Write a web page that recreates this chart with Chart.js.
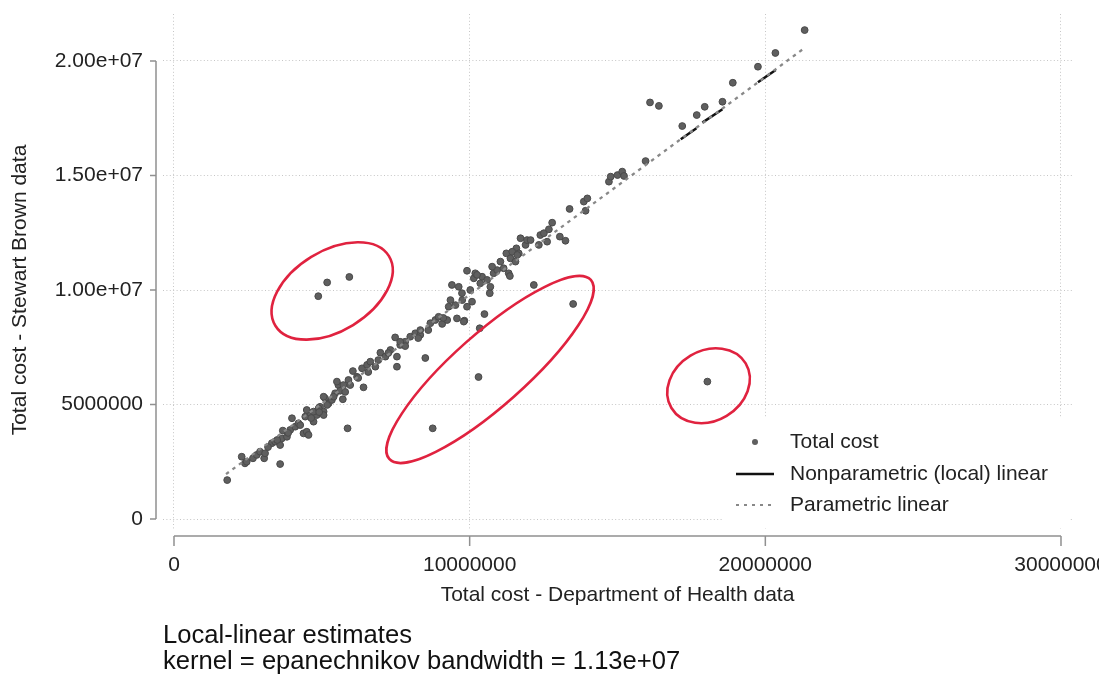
<!DOCTYPE html>
<html>
<head>
<meta charset="utf-8">
<title>Total cost: Department of Health vs Stewart Brown</title>
<script src="https://cdn.jsdelivr.net/npm/chart.js@4.4.1/dist/chart.umd.min.js"></script>
<style>
  html, body { margin: 0; padding: 0; background: #fff; }
</style>
</head>
<body>
<canvas id="costChart" width="1099" height="677"></canvas>
<script>
// Total cost per trust, in millions (DH data on x, Stewart Brown data on y)
const dhCost = [
  1.80, 2.29, 2.40, 2.46, 2.67, 2.80, 2.91, 3.05, 3.08, 3.31, 3.42, 3.59, 3.59, 3.65, 3.68, 3.82,
  3.93, 3.99, 4.10, 4.21, 4.38, 4.49, 4.55, 4.44, 4.61, 4.72, 4.83, 4.94, 5.06, 5.11, 5.23, 5.34,
  5.45, 5.56, 5.68, 5.87, 4.49, 4.72, 4.89, 5.06, 5.06, 5.40, 5.51, 5.62, 5.71, 5.73, 5.90, 6.05,
  6.19, 6.36, 6.41, 6.53, 6.64, 6.81, 6.98, 7.15, 7.32, 7.48, 7.54, 7.54, 7.65, 7.82, 7.99, 8.16,
  8.33, 8.50, 8.67, 8.84, 8.95, 9.07, 9.24, 9.29, 9.35, 9.40, 9.57, 9.63, 9.74, 9.82, 9.91, 9.91,
  10.08, 10.14, 10.19, 10.34, 10.36, 10.42, 10.50, 10.59, 10.68, 10.70, 10.81, 10.93, 11.04, 11.15,
  11.24, 11.32, 11.38, 11.55, 11.58, 11.66, 11.72, 11.89, 11.94, 10.25, 10.76, 11.44, 11.61, 12.06,
  12.17, 12.34, 12.39, 12.51, 12.62, 12.68, 12.79, 13.05, 13.24, 13.38, 13.92, 13.86, 13.98, 14.71,
  14.77, 15.00, 15.16, 15.22, 15.95, 16.10, 16.40, 17.19, 17.68, 17.95, 18.55, 18.90, 19.75, 20.34,
  21.33, 4.88, 5.18, 5.93, 8.75, 10.30, 13.50, 18.04, 11.36, 9.80, 7.65, 8.33,
  3.18, 3.49, 3.86, 4.27, 4.64, 4.91, 5.18, 5.79, 5.96, 6.23, 6.57, 6.91, 7.25, 7.82, 8.26, 8.60,
  9.11, 9.52, 9.75, 10.02
];
const sbCost = [
  1.70, 2.72, 2.43, 2.50, 2.65, 2.80, 2.94, 2.65, 2.87, 3.31, 3.38, 3.23, 2.40, 3.52, 3.86, 3.59,
  3.89, 4.40, 4.03, 4.18, 3.74, 3.81, 3.67, 4.47, 4.62, 4.25, 4.54, 4.90, 4.69, 5.27, 5.05, 5.20,
  5.49, 5.85, 5.63, 3.96, 4.76, 4.69, 4.83, 5.34, 4.54, 5.34, 6.00, 5.60, 5.23, 5.85, 6.07, 6.46,
  6.21, 6.58, 5.75, 6.73, 6.87, 6.65, 7.26, 7.09, 7.38, 7.93, 6.65, 7.09, 7.60, 7.74, 7.96, 8.11,
  8.04, 7.03, 8.55, 8.69, 8.83, 8.52, 8.69, 9.27, 9.56, 10.22, 8.76, 10.14, 9.86, 8.66, 9.27, 10.84,
  9.49, 10.51, 10.73, 8.33, 10.29, 10.58, 8.95, 10.44, 9.86, 10.14, 10.73, 10.87, 11.24, 10.95,
  11.60, 10.73, 11.38, 11.24, 11.82, 11.60, 12.26, 11.97, 12.18, 10.66, 11.02, 11.67, 11.53, 12.18,
  10.22, 11.97, 12.40, 12.48, 12.11, 12.65, 12.94, 12.33, 12.15, 13.54, 13.46, 13.86, 14.00, 14.73,
  14.95, 15.02, 15.17, 14.98, 15.63, 18.19, 18.04, 17.16, 17.64, 18.00, 18.22, 19.05, 19.75, 20.35,
  21.35, 9.73, 10.33, 10.57, 3.96, 6.20, 9.39, 6.00, 10.61, 8.62, 7.74, 8.25,
  3.14, 3.45, 3.76, 4.10, 4.41, 4.67, 4.98, 5.55, 5.85, 6.16, 6.42, 6.94, 7.25, 7.55, 7.90, 8.25,
  8.78, 9.34, 9.56, 10.00
];

// Parametric (OLS) fit, endpoints in millions
const parX = [1.76, 21.33];
const parY = [1.96, 20.57];

// Local-linear fit, the visible stretches (null breaks the line)
const npX = [17.14, 17.67, 17.77, 17.87, 18.55, 19.15, 19.75, 20.35];
const npY = [16.58, 17.06, null, 17.31, 17.89, null, 19.07, 19.61];

// Axis ticks
const xTicks = [0, 1e7, 2e7, 3e7];
const xTickLabels = ['0', '10000000', '20000000', '30000000'];
const yTicks = [0, 5e6, 1e7, 1.5e7, 2e7];
const yTickLabels = ['0', '5000000', '1.00e+07', '1.50e+07', '2.00e+07'];

// Highlighted groups (centres in millions)
const groupCx = [5.35, 10.69, 18.08];
const groupCy = [9.96, 6.53, 5.82];

const legendLabels = ['Total cost', 'Nonparametric (local) linear', 'Parametric linear'];
const captionLines = ['Local-linear estimates', 'kernel = epanechnikov bandwidth = 1.13e+07'];

const M = 1e6;
const pts = dhCost.map((v, i) => ({ x: v * M, y: sbCost[i] * M }));
const parLine = parX.map((v, i) => ({ x: v * M, y: parY[i] * M }));
const npLine = npX.map((v, i) => ({ x: v * M, y: npY[i] === null ? null : npY[i] * M }));

const FONT = '"Liberation Sans", Arial, sans-serif';
const POINT_FILL = '#5f5f5f';
const PAR_COLOR = '#888888';

const costAxes = {
  id: 'costAxes',
  beforeDraw(chart) {
    const { ctx } = chart;
    ctx.save();
    ctx.fillStyle = '#fff';
    ctx.fillRect(0, 0, chart.width, chart.height);
    ctx.restore();
  },
  afterDraw(chart) {
    const { ctx, chartArea: area, scales: { x, y } } = chart;
    ctx.save();

    // y axis
    const yAxisX = area.left - 7;
    ctx.strokeStyle = '#909090';
    ctx.lineWidth = 1.5;
    ctx.beginPath();
    ctx.moveTo(yAxisX, y.getPixelForValue(yTicks[0]));
    ctx.lineTo(yAxisX, y.getPixelForValue(yTicks[yTicks.length - 1]));
    yTicks.forEach(v => {
      const py = y.getPixelForValue(v);
      ctx.moveTo(yAxisX - 6, py);
      ctx.lineTo(yAxisX, py);
    });
    ctx.stroke();

    ctx.fillStyle = '#222';
    ctx.font = '21px ' + FONT;
    ctx.textAlign = 'right';
    ctx.textBaseline = 'middle';
    yTicks.forEach((v, i) => ctx.fillText(yTickLabels[i], yAxisX - 13, y.getPixelForValue(v)));

    // x axis
    const xAxisY = area.bottom + 6;
    ctx.beginPath();
    ctx.moveTo(x.getPixelForValue(xTicks[0]), xAxisY);
    ctx.lineTo(x.getPixelForValue(xTicks[xTicks.length - 1]), xAxisY);
    xTicks.forEach(v => {
      const px = x.getPixelForValue(v);
      ctx.moveTo(px, xAxisY);
      ctx.lineTo(px, xAxisY + 10);
    });
    ctx.stroke();

    ctx.textAlign = 'center';
    xTicks.forEach((v, i) => ctx.fillText(xTickLabels[i], x.getPixelForValue(v), xAxisY + 29));

    // axis titles
    const xMid = (x.getPixelForValue(xTicks[0]) + x.getPixelForValue(xTicks[xTicks.length - 1])) / 2;
    ctx.fillText('Total cost - Department of Health data', xMid, xAxisY + 59);
    const yMid = (y.getPixelForValue(yTicks[0]) + y.getPixelForValue(yTicks[yTicks.length - 1])) / 2;
    ctx.save();
    ctx.translate(20, yMid);
    ctx.rotate(-Math.PI / 2);
    ctx.fillText('Total cost - Stewart Brown data', 0, 0);
    ctx.restore();

    // legend, sitting in the lower right corner of the plot region
    const lgLeft = area.right - 350;
    const lgTop = area.bottom - 112;
    ctx.fillStyle = '#fff';
    ctx.fillRect(lgLeft, lgTop, 347, 110);
    const rows = [lgTop + 24, lgTop + 56, lgTop + 87];
    ctx.fillStyle = POINT_FILL;
    ctx.beginPath();
    ctx.arc(lgLeft + 32, rows[0], 3, 0, Math.PI * 2);
    ctx.fill();
    ctx.strokeStyle = '#111';
    ctx.lineWidth = 2.5;
    ctx.beginPath();
    ctx.moveTo(lgLeft + 13, rows[1]);
    ctx.lineTo(lgLeft + 51, rows[1]);
    ctx.stroke();
    ctx.strokeStyle = PAR_COLOR;
    ctx.lineWidth = 2.2;
    ctx.setLineDash([3, 5]);
    ctx.beginPath();
    ctx.moveTo(lgLeft + 13, rows[2]);
    ctx.lineTo(lgLeft + 51, rows[2]);
    ctx.stroke();
    ctx.setLineDash([]);
    ctx.fillStyle = '#222';
    ctx.textAlign = 'left';
    legendLabels.forEach((t, i) => ctx.fillText(t, lgLeft + 67, rows[i]));

    // red rings around the outlying groups
    const rings = [
      { a: 66.6, b: 40, rot: -31.5 },
      { a: 134.8, b: 36.2, rot: -41.6 },
      { a: 43.3, b: 35.1, rot: -31 }
    ];
    ctx.strokeStyle = '#e0223f';
    ctx.lineWidth = 2.6;
    rings.forEach((r, i) => {
      ctx.beginPath();
      ctx.ellipse(x.getPixelForValue(groupCx[i] * M), y.getPixelForValue(groupCy[i] * M),
        r.a, r.b, r.rot * Math.PI / 180, 0, Math.PI * 2);
      ctx.stroke();
    });

    // note below the chart
    ctx.fillStyle = '#111';
    ctx.font = '25.6px ' + FONT;
    ctx.textAlign = 'left';
    captionLines.forEach((t, i) => ctx.fillText(t, area.left, area.bottom + 106 + i * 26));

    ctx.restore();
  }
};

const gridStyle = {
  color: '#c6c6c6',
  lineWidth: 1,
  drawTicks: false
};

new Chart(document.getElementById('costChart'), {
  type: 'scatter',
  data: {
    datasets: [
      {
        label: legendLabels[1],
        data: npLine,
        showLine: true,
        spanGaps: false,
        borderColor: '#111',
        borderWidth: 2.5,
        pointRadius: 0,
        order: 1
      },
      {
        label: legendLabels[2],
        data: parLine,
        showLine: true,
        borderColor: PAR_COLOR,
        borderWidth: 2.3,
        borderDash: [3.5, 4.5],
        pointRadius: 0,
        order: 0
      },
      {
        label: legendLabels[0],
        data: pts,
        backgroundColor: POINT_FILL,
        borderColor: '#4a4a4a',
        borderWidth: 1,
        pointRadius: 3.4,
        order: 2
      }
    ]
  },
  options: {
    responsive: false,
    animation: false,
    layout: { padding: { left: 163, right: 26, top: 14, bottom: 147 } },
    plugins: {
      legend: { display: false },
      tooltip: { enabled: false }
    },
    scales: {
      x: {
        type: 'linear',
        min: -372000,
        max: 30406000,
        grid: gridStyle,
        border: { display: false, dash: [1, 2.4] },
        ticks: { display: false },
        afterBuildTicks: axis => { axis.ticks = xTicks.map(v => ({ value: v })); },
        afterFit: s => { s.height = 0; s.paddingLeft = 0; s.paddingRight = 0; }
      },
      y: {
        type: 'linear',
        min: -480000,
        max: 22052000,
        grid: gridStyle,
        border: { display: false, dash: [1, 2.4] },
        ticks: { display: false },
        afterBuildTicks: axis => { axis.ticks = yTicks.map(v => ({ value: v })); },
        afterFit: s => { s.width = 0; s.paddingTop = 0; s.paddingBottom = 0; }
      }
    }
  },
  plugins: [costAxes]
});
</script>
</body>
</html>
